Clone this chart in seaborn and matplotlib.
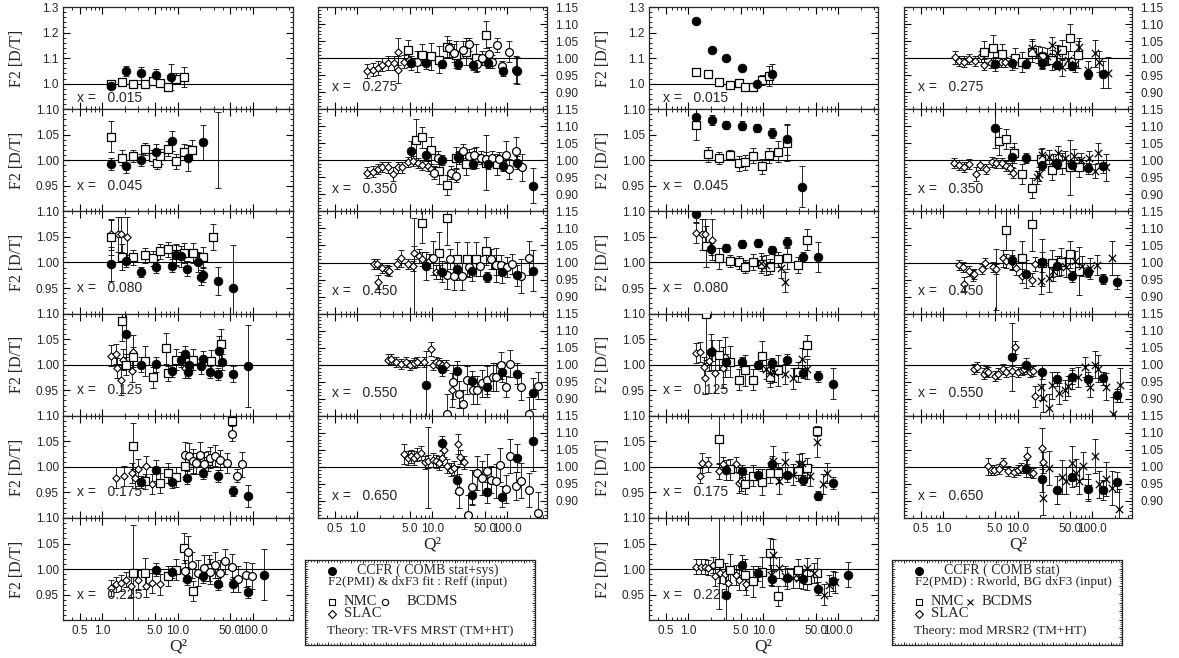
import numpy as np
import matplotlib
matplotlib.use("Agg")
import matplotlib.pyplot as plt
import seaborn as sns
from matplotlib.ticker import FixedLocator, LogLocator, MultipleLocator, NullFormatter

# x-bin labels, 6 panels in the first column, 5 in the second
X_BINS = ['0.015', '0.045', '0.080', '0.125', '0.175', '0.225',
          '0.275', '0.350', '0.450', '0.550', '0.650']
Q_TICKS = [0.5, 1, 5, 10, 50, 100]
Q_TICK_LABELS = ['0.5', '1.0', '5.0', '10.0', '50.0', '100.0']

# ---- left figure: CCFR (COMB stat+sys), points are (Q2, ratio, error) ----
ccfr_L = [
    [(1.31, 0.99, 0.01), (2.03, 1.048, 0.02), (3.28, 1.04, 0.025), (5.2, 1.032, 0.025), (8.2, 1.027, 0.05)],
    [(1.31, 0.993, 0.012), (2.07, 0.988, 0.012), (3.28, 1.001, 0.012), (5.2, 1.016, 0.015), (8.4, 1.038, 0.02),
     (13.7, 1.005, 0.025), (21.4, 1.035, 0.035)],
    [(1.31, 0.997, 0.033), (2.07, 1.003, 0.012), (3.28, 0.981, 0.01), (5.2, 0.992, 0.012), (8.4, 0.994, 0.012),
     (9.6, 1.014, 0.02), (11.2, 1.012, 0.02), (13.4, 0.988, 0.015), (18.6, 1.001, 0.02), (20.6, 0.971, 0.015),
     (21.5, 0.976, 0.015), (34.6, 0.964, 0.028), (54.8, 0.95, 0.085)],
    [(2.07, 1.06, 0.045), (3.28, 1.0, 0.015), (5.2, 1.001, 0.015), (8.4, 0.988, 0.012), (11.2, 1.01, 0.015),
     (12.4, 1.021, 0.015), (13.7, 0.985, 0.012), (14.0, 0.999, 0.015), (20.6, 0.997, 0.015), (22.0, 1.012, 0.015),
     (26.7, 0.985, 0.012), (34.6, 0.982, 0.012), (35.6, 1.027, 0.03), (39.1, 1.005, 0.015), (54.8, 0.982, 0.015),
     (86.6, 0.998, 0.08)],
    [(3.28, 0.97, 0.012), (5.2, 0.993, 0.02), (8.4, 0.97, 0.012), (13.4, 0.979, 0.012), (21.4, 0.988, 0.012),
     (34.6, 0.982, 0.012), (54.8, 0.953, 0.01), (86.6, 0.943, 0.022)],
    [(5.2, 0.999, 0.012), (8.4, 0.995, 0.012), (13.4, 0.981, 0.012), (21.4, 0.987, 0.015), (34.6, 0.971, 0.012),
     (54.8, 0.97, 0.015), (86.6, 0.955, 0.012), (138, 0.989, 0.05)],
    [(5.2, 0.986, 0.02), (8.2, 0.987, 0.02), (13.5, 0.983, 0.012), (21.8, 0.983, 0.015), (34.6, 0.981, 0.015),
     (55, 0.986, 0.015), (86.7, 0.962, 0.015), (137, 0.963, 0.04)],
    [(5.2, 1.027, 0.03), (8.2, 1.017, 0.02), (13.5, 1.0, 0.015), (21.8, 1.01, 0.015), (34.6, 0.989, 0.015),
     (55, 0.99, 0.015), (86.7, 0.984, 0.015), (137, 0.993, 0.02), (218, 0.926, 0.05)],
    [(8.2, 0.99, 0.04), (13.7, 0.973, 0.03), (21.3, 0.98, 0.03), (33.8, 0.976, 0.03), (54.6, 0.957, 0.015),
     (86.6, 0.971, 0.03), (137, 0.962, 0.03), (222, 0.976, 0.06)],
    [(8.2, 0.94, 0.1), (13.7, 0.986, 0.02), (21.3, 0.982, 0.03), (33.8, 0.952, 0.03), (54.6, 0.934, 0.03),
     (86.6, 0.979, 0.03), (137, 0.974, 0.03), (222, 0.916, 0.045)],
    [(13.4, 1.071, 0.02), (21.3, 0.962, 0.04), (33.8, 0.917, 0.03), (54, 0.925, 0.03), (86.6, 0.913, 0.03),
     (137, 1.026, 0.04), (224, 1.077, 0.09)],
]
nmc_L = [
    [(1.31, 0.997, 0.01), (1.81, 1.008, 0.01), (2.59, 1.0, 0.01), (3.67, 0.997, 0.012), (4.74, 1.01, 0.015),
     (5.75, 1.004, 0.015), (7.4, 0.987, 0.015), (9.6, 1.02, 0.02), (12.1, 1.027, 0.04)],
    [(1.31, 1.046, 0.03), (1.81, 1.005, 0.015), (2.59, 1.009, 0.012), (3.67, 1.022, 0.012), (4.74, 1.006, 0.015),
     (5.3, 0.995, 0.012), (5.9, 1.008, 0.015), (7.4, 1.023, 0.015), (9.6, 0.998, 0.015), (12.1, 1.016, 0.015),
     (15.6, 1.02, 0.02)],
    [(1.3, 1.049, 0.035), (1.81, 1.011, 0.025), (2.59, 1.01, 0.015), (3.67, 1.014, 0.015), (4.74, 1.008, 0.015),
     (5.9, 1.022, 0.015), (7.4, 1.026, 0.015), (9.6, 1.016, 0.02), (12.1, 1.019, 0.02), (15.8, 1.019, 0.02),
     (21.4, 1.01, 0.02), (29.5, 1.05, 0.025)],
    [(1.81, 1.086, 0.04), (2.07, 1.0, 0.02), (2.59, 1.015, 0.02), (3.67, 1.007, 0.03), (4.74, 0.975, 0.02),
     (7.0, 1.032, 0.03), (7.4, 0.983, 0.015), (9.6, 1.01, 0.02), (15.8, 1.01, 0.02), (28, 1.008, 0.02),
     (38, 1.04, 0.03)],
    [(2.59, 1.041, 0.045), (3.67, 0.972, 0.015), (5.75, 0.969, 0.02), (7.4, 0.988, 0.02), (9.6, 0.98, 0.02),
     (12.4, 1.001, 0.02), (16, 1.008, 0.02), (25.5, 1.011, 0.02), (53, 1.089, 0.02)],
    [(2.59, 0.992, 0.095), (3.67, 0.992, 0.03), (7.4, 0.987, 0.02), (9.6, 0.999, 0.02), (12.1, 1.041, 0.03),
     (15.8, 0.957, 0.02), (26, 1.002, 0.025)],
    [(4.7, 1.024, 0.03), (7.4, 1.01, 0.03), (9.6, 1.005, 0.04), (12.4, 0.995, 0.04), (16, 1.034, 0.03),
     (20.7, 1.01, 0.04), (28, 1.019, 0.04), (38, 1.0, 0.04), (52, 1.069, 0.04)],
    [(6, 1.06, 0.06), (7.4, 1.067, 0.03), (9.6, 1.029, 0.04), (12.4, 0.969, 0.04), (16, 0.927, 0.03),
     (20.7, 1.008, 0.03), (28, 0.988, 0.03), (38, 1.008, 0.03), (52, 0.993, 0.08), (74, 0.988, 0.03)],
    [(7.4, 1.117, 0.06), (12.4, 1.029, 0.06), (16, 1.13, 0.08), (21.5, 1.01, 0.05), (29.5, 1.01, 0.05),
     (38, 1.01, 0.05), (52, 1.034, 0.04), (70, 0.992, 0.05)],
    [],
    [],
]
slac_L = [
    [],
    [],
    [(1.31, 1.055, 0.03), (1.6, 1.055, 0.035), (1.75, 1.055, 0.035), (2.11, 1.05, 0.04)],
    [(1.31, 1.018, 0.02), (1.5, 1.021, 0.02), (1.55, 0.993, 0.02), (1.75, 0.971, 0.03), (1.9, 1.01, 0.02),
     (2.5, 0.987, 0.02), (2.59, 1.024, 0.035), (12.4, 0.993, 0.02)],
    [(1.5, 0.979, 0.02), (1.95, 0.982, 0.02), (2.5, 0.988, 0.02), (2.7, 0.979, 0.02), (3.0, 0.995, 0.02),
     (3.8, 1.001, 0.02), (4.6, 0.966, 0.02)],
    [(1.31, 0.963, 0.015), (1.5, 0.97, 0.015), (1.75, 0.973, 0.015), (2.07, 0.979, 0.015), (2.4, 0.966, 0.02),
     (3.0, 0.979, 0.02), (3.8, 0.966, 0.02), (4.6, 0.973, 0.02), (5.8, 0.97, 0.02)],
    [(1.37, 0.962, 0.02), (1.6, 0.966, 0.02), (1.87, 0.971, 0.02), (2.17, 0.981, 0.02), (2.54, 0.986, 0.02),
     (3.11, 0.986, 0.02), (3.45, 1.019, 0.04), (3.5, 0.966, 0.04), (4.24, 0.99, 0.02), (4.93, 0.995, 0.02)],
    [(1.37, 0.964, 0.015), (1.6, 0.967, 0.015), (1.87, 0.974, 0.015), (2.17, 0.981, 0.015), (2.54, 0.979, 0.015),
     (2.96, 0.96, 0.02), (3.45, 0.979, 0.015), (4.0, 0.979, 0.015), (4.7, 0.996, 0.015), (5.5, 0.998, 0.015),
     (6.4, 0.993, 0.015), (7.4, 0.987, 0.015), (8.7, 0.984, 0.015), (9.6, 0.974, 0.015)],
    [(1.69, 0.995, 0.015), (1.85, 0.995, 0.015), (1.88, 0.942, 0.02), (2.17, 0.985, 0.015), (2.47, 0.978, 0.015),
     (2.67, 0.974, 0.015), (3.4, 0.995, 0.015), (3.85, 1.012, 0.025), (4.75, 0.995, 0.015), (5.47, 0.99, 0.015),
     (5.8, 1.029, 0.02), (6.7, 1.019, 0.02), (7.4, 1.01, 0.02), (9.0, 1.005, 0.02), (11.2, 0.973, 0.02),
     (12.9, 0.973, 0.02)],
    [(2.54, 1.015, 0.015), (2.8, 1.017, 0.015), (3.28, 1.008, 0.015), (3.8, 1.003, 0.015), (4.46, 1.008, 0.015),
     (5.1, 0.998, 0.015), (5.7, 1.006, 0.015), (6.3, 1.008, 0.015), (7.8, 1.008, 0.015), (9.6, 1.046, 0.02),
     (10.1, 1.0, 0.015), (11.2, 1.008, 0.015), (12.4, 1.006, 0.015), (13.7, 1.0, 0.015), (15.2, 0.998, 0.015),
     (18.2, 0.925, 0.05)],
    [(4.24, 1.038, 0.03), (4.69, 1.026, 0.02), (5.2, 1.031, 0.02), (5.76, 1.026, 0.02), (6.36, 1.036, 0.02),
     (7.06, 1.04, 0.02), (8.06, 1.013, 0.02), (8.9, 1.016, 0.02), (10.1, 1.021, 0.02), (11.2, 1.016, 0.02),
     (12.4, 1.012, 0.02), (13.7, 1.026, 0.02), (14.5, 1.05, 0.02), (16, 1.002, 0.02), (17.8, 0.992, 0.02),
     (19.7, 0.997, 0.02), (21.8, 1.067, 0.03), (23.4, 1.029, 0.02), (26.7, 1.013, 0.02)],
]
bcdms_L = [
    [], [], [], [],
    [(12.4, 1.024, 0.025), (14, 1.021, 0.025), (16, 1.011, 0.025), (17.5, 1.007, 0.02), (19.5, 1.024, 0.025),
     (22.4, 1.005, 0.025), (26.7, 1.018, 0.02), (31, 1.022, 0.02), (36, 1.014, 0.02), (45, 1.008, 0.02),
     (53, 1.065, 0.015), (62, 0.983, 0.012), (71, 1.005, 0.025)],
    [(12.4, 0.997, 0.02), (13.7, 1.034, 0.03), (15.6, 1.008, 0.025), (18.6, 0.992, 0.025), (22.4, 1.002, 0.025),
     (26.7, 0.995, 0.025), (31, 1.008, 0.025), (36, 0.992, 0.025), (43, 1.015, 0.025), (52, 1.005, 0.025),
     (63, 0.981, 0.025), (82, 0.989, 0.025), (96, 0.987, 0.025)],
    [(6.36, 0.99, 0.03), (16.9, 1.029, 0.025), (19.7, 1.015, 0.025), (25.4, 1.024, 0.025), (31, 1.04, 0.02),
     (40.2, 0.983, 0.02), (46.9, 1.0, 0.02), (57.5, 1.012, 0.02), (63.5, 0.99, 0.02), (74, 1.038, 0.02),
     (86.6, 0.976, 0.015), (106, 1.019, 0.03), (131, 0.966, 0.04)],
    [(10.6, 0.964, 0.02), (11.8, 1.008, 0.02), (17.8, 0.964, 0.02), (20.7, 0.955, 0.02), (22.9, 1.008, 0.02),
     (25.4, 1.027, 0.02), (31, 1.012, 0.02), (36.3, 1.017, 0.02), (44.6, 1.008, 0.02), (52, 1.003, 0.02),
     (63.5, 1.008, 0.02), (78.4, 1.003, 0.02), (96, 1.017, 0.04), (106, 0.974, 0.03), (131, 1.027, 0.04),
     (160, 0.979, 0.04)],
    [(10.1, 1.012, 0.05), (15.8, 0.962, 0.04), (17.1, 1.01, 0.03), (19.5, 0.96, 0.04), (25, 0.96, 0.04),
     (31, 0.986, 0.03), (44, 0.99, 0.03), (61, 1.01, 0.03), (70, 0.992, 0.03), (82, 0.992, 0.03),
     (100, 0.986, 0.03), (115, 0.995, 0.03), (152, 0.96, 0.05), (193, 1.012, 0.05)],
    [(15.9, 0.855, 0.06), (19.2, 0.95, 0.05), (22.9, 0.913, 0.04), (26, 0.885, 0.04), (29.5, 0.955, 0.04),
     (34.5, 0.926, 0.04), (40, 0.926, 0.04), (46.5, 0.945, 0.04), (54.6, 0.955, 0.04), (64, 0.964, 0.04),
     (70, 0.964, 0.04), (82, 0.998, 0.04), (96, 0.936, 0.03), (108, 1.003, 0.04), (152, 0.936, 0.04),
     (193, 0.855, 0.05), (255, 0.938, 0.04)],
    [(22.9, 0.93, 0.05), (29.6, 0.858, 0.06), (33.8, 0.942, 0.05), (40.2, 0.981, 0.05), (46.9, 0.968, 0.05),
     (54.6, 0.988, 0.05), (60.4, 0.962, 0.04), (70.8, 0.958, 0.05), (80, 1.005, 0.05), (96.3, 0.935, 0.04),
     (108, 1.031, 0.05), (131, 0.944, 0.04), (152, 0.96, 0.05), (193, 0.933, 0.05), (254, 0.865, 0.06)],
]
bare_L = [[], [(34, 1.02, 0.075)], [], [], [], [], [], [], [(5.8, 0.99, 0.14)], [], [(8.9, 0.998, 0.12)]]

# ---- right figure: CCFR (COMB stat) ----
ccfr_R = [
    [(1.29, 1.244, 0.008), (2.05, 1.133, 0.006), (3.24, 1.1, 0.008), (5.2, 1.061, 0.01), (8.2, 0.997, 0.01),
     (13.3, 1.037, 0.04)],
    [(1.29, 1.085, 0.015), (2.05, 1.079, 0.01), (3.24, 1.069, 0.008), (5.2, 1.068, 0.008), (8.2, 1.064, 0.008),
     (13.3, 1.054, 0.01), (21.1, 1.041, 0.03), (32.8, 0.948, 0.04)],
    [(1.27, 1.094, 0.015), (2.0, 1.026, 0.012), (3.18, 1.028, 0.008), (5.2, 1.036, 0.008), (8.4, 1.038, 0.008),
     (13.3, 1.025, 0.008), (21.1, 1.04, 0.01), (34, 1.01, 0.01), (54.6, 1.011, 0.03)],
    [(2.0, 1.025, 0.035), (3.18, 1.005, 0.015), (5.2, 1.005, 0.01), (8.4, 1.0, 0.008), (13.3, 1.004, 0.01),
     (21.1, 1.01, 0.01), (34, 0.984, 0.01), (54.6, 0.977, 0.01), (85, 0.963, 0.03)],
    [(3.18, 0.994, 0.02), (5.2, 0.992, 0.012), (8.4, 0.985, 0.01), (13.3, 1.006, 0.015), (21.1, 0.985, 0.015),
     (34, 0.974, 0.01), (54.6, 0.944, 0.008), (85, 0.968, 0.012)],
    [(3.18, 0.95, 0.05), (5.2, 1.008, 0.02), (8.4, 0.992, 0.015), (13.3, 0.981, 0.015), (21.1, 0.982, 0.02),
     (34, 0.981, 0.02), (54.6, 0.962, 0.012), (85, 0.977, 0.02), (136, 0.989, 0.025)],
    [(5.0, 0.983, 0.02), (8.3, 0.986, 0.02), (13.1, 0.984, 0.012), (21.1, 0.986, 0.015), (33.5, 0.979, 0.012),
     (53, 0.976, 0.012), (87, 0.952, 0.012), (138, 0.952, 0.04)],
    [(5.0, 1.096, 0.06), (8.3, 1.01, 0.03), (13.1, 1.006, 0.015), (21.1, 0.987, 0.015), (33.5, 0.988, 0.015),
     (53, 0.987, 0.015), (87, 0.976, 0.015), (138, 0.982, 0.02)],
    [(8.3, 1.008, 0.03), (13.1, 0.966, 0.04), (21.1, 1.002, 0.03), (33.5, 0.99, 0.03), (53, 0.959, 0.015),
     (87, 0.973, 0.015), (138, 0.952, 0.015), (216, 0.942, 0.02)],
    [(8.3, 1.022, 0.1), (13.1, 1.0, 0.02), (21.1, 0.979, 0.02), (33.5, 0.958, 0.02), (53, 0.964, 0.02),
     (87, 0.958, 0.02), (138, 0.96, 0.02), (216, 0.91, 0.02)],
    [(13.1, 0.994, 0.025), (21.1, 0.965, 0.04), (33.5, 0.932, 0.04), (53, 0.97, 0.03), (87, 0.935, 0.03),
     (138, 0.932, 0.03), (216, 0.956, 0.03)],
]
nmc_R = [
    [(1.29, 1.047, 0.015), (1.81, 1.037, 0.008), (2.59, 1.008, 0.008), (3.63, 0.993, 0.01), (4.69, 1.004, 0.01),
     (5.76, 0.987, 0.015), (7.36, 0.987, 0.012), (9.5, 1.015, 0.02), (12, 1.03, 0.04)],
    [(1.29, 1.07, 0.03), (1.81, 1.012, 0.015), (2.59, 1.005, 0.012), (3.63, 1.011, 0.01), (4.69, 0.994, 0.015),
     (5.76, 0.996, 0.015), (7.36, 1.009, 0.015), (9.5, 0.988, 0.015), (12, 1.01, 0.015), (16, 1.017, 0.02),
     (21.1, 1.034, 0.035)],
    [(1.75, 1.032, 0.04), (2.56, 1.008, 0.02), (3.6, 1.003, 0.012), (4.69, 1.0, 0.012), (5.76, 0.992, 0.012),
     (7.36, 1.001, 0.015), (9.6, 0.998, 0.015), (12.3, 0.992, 0.015), (16, 1.006, 0.015), (21.1, 1.008, 0.02),
     (28.7, 0.995, 0.015), (39, 1.045, 0.02)],
    [(1.75, 1.1, 0.09), (2.56, 1.019, 0.03), (3.6, 1.006, 0.03), (4.69, 0.971, 0.02), (5.76, 0.989, 0.03),
     (7.36, 0.971, 0.02), (9.6, 1.017, 0.03), (12.3, 0.976, 0.02), (16, 0.989, 0.03), (28.7, 0.986, 0.02),
     (39, 1.038, 0.02)],
    [(2.56, 1.055, 0.05), (3.6, 0.995, 0.02), (5.76, 0.966, 0.02), (7.36, 0.983, 0.02), (9.6, 0.97, 0.025),
     (12.3, 0.988, 0.02), (16, 0.988, 0.02), (28.7, 0.992, 0.02), (39, 0.998, 0.02), (53, 1.07, 0.01)],
    [(2.56, 1.012, 0.09), (3.6, 0.999, 0.03), (5.76, 0.989, 0.03), (7.36, 0.976, 0.03), (9.6, 0.994, 0.03),
     (12.3, 1.031, 0.03), (16, 0.947, 0.02), (28.7, 0.999, 0.02), (39, 0.979, 0.02), (53, 0.992, 0.03)],
    [(3.55, 1.019, 0.03), (4.6, 1.029, 0.04), (6.1, 1.012, 0.03), (9.2, 1.0, 0.03), (11.6, 0.988, 0.03),
     (15.5, 1.019, 0.03), (21.1, 1.002, 0.03), (28.5, 0.995, 0.03), (39, 1.024, 0.03), (51, 1.06, 0.04),
     (65, 1.01, 0.04)],
    [(5.6, 1.056, 0.04), (7.0, 1.062, 0.03), (9, 1.022, 0.03), (11.6, 0.96, 0.03), (15.5, 0.918, 0.03),
     (20.8, 1.003, 0.03), (28.5, 0.971, 0.03), (39, 0.99, 0.03), (51, 0.979, 0.08), (67, 0.981, 0.03)],
    [(7, 1.096, 0.06), (11.6, 1.012, 0.05), (15.5, 1.113, 0.08), (21.1, 1.0, 0.07), (28.5, 0.998, 0.04),
     (38, 1.002, 0.04), (50, 1.024, 0.04), (67, 0.976, 0.07)],
    [],
    [],
]
slac_R = [
    [],
    [],
    [(1.27, 1.058, 0.02), (1.55, 1.055, 0.03), (1.7, 1.055, 0.03), (2.05, 1.045, 0.04)],
    [(1.27, 1.023, 0.02), (1.45, 1.025, 0.02), (1.6, 0.995, 0.02), (1.7, 0.973, 0.03), (1.9, 1.008, 0.02),
     (2.05, 1.028, 0.02), (2.3, 0.984, 0.04), (2.9, 0.994, 0.04), (3.1, 1.015, 0.04)],
    [(1.43, 0.983, 0.015), (1.55, 1.008, 0.02), (1.85, 1.005, 0.015), (2.59, 0.992, 0.015), (2.9, 1.005, 0.015),
     (4.32, 1.005, 0.015), (4.79, 0.968, 0.02), (5.0, 0.972, 0.02)],
    [(1.27, 1.005, 0.015), (1.5, 1.005, 0.015), (1.7, 1.005, 0.015), (1.85, 1.003, 0.015), (2.15, 1.008, 0.015),
     (2.25, 0.986, 0.02), (2.65, 0.992, 0.02), (3.05, 0.991, 0.02), (3.4, 0.973, 0.02), (4.3, 0.989, 0.02),
     (4.8, 0.979, 0.02), (5.9, 0.97, 0.02)],
    [(1.45, 1.002, 0.02), (1.63, 0.992, 0.015), (1.9, 0.99, 0.015), (2.2, 0.998, 0.015), (2.7, 0.992, 0.015),
     (3.2, 1.005, 0.015), (3.5, 0.981, 0.015), (4.4, 0.986, 0.015), (5.9, 0.99, 0.015), (6.7, 0.988, 0.015)],
    [(1.39, 0.991, 0.015), (1.63, 0.987, 0.015), (1.9, 0.981, 0.015), (2.2, 0.989, 0.015), (2.75, 0.96, 0.02),
     (3.1, 0.987, 0.015), (3.75, 0.974, 0.015), (4.54, 0.996, 0.015), (5.2, 0.993, 0.015), (6.2, 0.993, 0.015),
     (7, 0.984, 0.015), (7.8, 0.976, 0.015), (8.6, 0.962, 0.015)],
    [(1.63, 0.992, 0.015), (1.83, 0.986, 0.015), (1.9, 0.937, 0.02), (2.2, 0.976, 0.015), (2.5, 0.962, 0.015),
     (2.6, 0.966, 0.015), (3.3, 0.981, 0.015), (3.7, 0.998, 0.015), (4.6, 0.986, 0.015), (5.2, 0.981, 0.015),
     (6.3, 1.012, 0.025), (7.0, 1.005, 0.02), (8.4, 1.002, 0.02), (9.6, 0.983, 0.02), (11.3, 0.96, 0.02),
     (15.5, 0.95, 0.02), (16.9, 0.995, 0.02)],
    [(2.6, 0.988, 0.015), (2.85, 0.993, 0.015), (3.5, 0.974, 0.015), (3.75, 0.981, 0.015), (4.0, 0.979, 0.015),
     (5.0, 0.967, 0.015), (5.4, 0.974, 0.015), (6.3, 0.987, 0.015), (7.0, 0.979, 0.015), (8.4, 0.981, 0.015),
     (9.3, 1.051, 0.02), (10, 0.979, 0.015), (11.3, 0.984, 0.015), (12.3, 0.988, 0.015), (14.5, 0.979, 0.015),
     (16, 0.981, 0.015), (16.9, 0.907, 0.03)],
    [(4.0, 1.002, 0.025), (4.4, 0.992, 0.015), (4.8, 0.992, 0.015), (5.7, 0.994, 0.015), (6.3, 1.01, 0.015),
     (7.5, 0.988, 0.015), (9, 0.985, 0.015), (10, 0.992, 0.015), (11, 0.997, 0.015), (13.4, 1.033, 0.025),
     (14.5, 0.985, 0.015), (16, 0.983, 0.015), (21.1, 1.055, 0.06), (22, 1.013, 0.03)],
]
bcdms_R = [
    [],
    [],
    [(9.4, 0.999, 0.02), (10.8, 0.995, 0.02), (17.3, 0.99, 0.02), (19.6, 0.962, 0.02)],
    [(10.8, 0.992, 0.02), (12.3, 0.984, 0.02), (14, 0.986, 0.02), (19.6, 0.982, 0.02), (25, 0.973, 0.02),
     (33, 1.012, 0.02), (39, 0.992, 0.02)],
    [(13.7, 1.011, 0.03), (16.3, 0.972, 0.025), (19.6, 1.009, 0.02), (25, 0.985, 0.02), (29.6, 1.005, 0.02),
     (33, 1.008, 0.02), (42, 0.983, 0.02), (53, 1.049, 0.03), (62, 0.966, 0.02), (70, 0.988, 0.02)],
    [(12.6, 0.989, 0.02), (13.7, 1.028, 0.03), (16.3, 1.003, 0.02), (19.6, 0.986, 0.02), (25, 0.983, 0.02),
     (29.6, 0.983, 0.02), (39, 1.002, 0.02), (48, 0.992, 0.02), (64, 0.95, 0.02), (75, 0.968, 0.02),
     (90, 0.974, 0.02)],
    [(15.5, 1.031, 0.025), (18.6, 1.01, 0.025), (21.1, 0.992, 0.025), (24.5, 1.005, 0.025), (28.5, 1.038, 0.025),
     (34, 1.014, 0.025), (39, 0.973, 0.025), (47, 0.995, 0.025), (58, 0.983, 0.025), (67, 1.034, 0.025),
     (87, 0.966, 0.025), (108, 1.014, 0.04), (124, 0.99, 0.03), (160, 0.957, 0.045)],
    [(18, 0.95, 0.02), (19.5, 0.96, 0.02), (21.5, 1.017, 0.02), (25.9, 1.01, 0.02), (30, 0.998, 0.02),
     (35, 1.022, 0.02), (43, 1.008, 0.02), (57, 1.012, 0.02), (70, 1.0, 0.02), (89, 1.008, 0.02),
     (108, 0.969, 0.02), (118, 1.022, 0.03), (151, 0.979, 0.04)],
    [(20.3, 0.947, 0.04), (26.3, 0.954, 0.04), (30, 0.976, 0.03), (36, 0.99, 0.03), (44, 0.986, 0.03),
     (58, 1.005, 0.03), (73, 0.99, 0.03), (93, 0.983, 0.03), (115, 0.992, 0.03), (185, 1.012, 0.05)],
    [(20.3, 0.936, 0.04), (22, 0.902, 0.04), (25.9, 0.873, 0.04), (28.5, 0.94, 0.04), (36, 0.916, 0.03),
     (43.3, 0.926, 0.03), (47, 0.938, 0.03), (54, 0.96, 0.03), (65, 0.964, 0.03), (80, 0.993, 0.03),
     (92, 0.936, 0.03), (108, 1.0, 0.04), (119, 0.988, 0.04), (151, 0.936, 0.04), (190, 0.856, 0.05),
     (238, 0.94, 0.05)],
    [(22, 0.91, 0.05), (25.9, 0.997, 0.05), (39, 0.971, 0.05), (44, 0.959, 0.04), (53, 1.01, 0.05),
     (60, 0.983, 0.04), (66, 0.959, 0.04), (76, 1.004, 0.04), (87, 0.939, 0.04), (108, 1.031, 0.05),
     (124, 0.949, 0.04), (151, 0.965, 0.05), (185, 0.939, 0.05), (230, 0.875, 0.06)],
]
bare_R = [[], [], [], [], [], [], [], [], [(5.2, 0.95, 0.09)], [], []]

LEGEND_L = ['CCFR ( COMB stat+sys)', 'F2(PMI) & dxF3 fit : Reff (input)', 'Theory: TR-VFS MRST (TM+HT)']
LEGEND_R = ['CCFR ( COMB stat)', 'F2(PMD) : Rworld, BG dxF3 (input)', 'Theory: mod MRSR2 (TM+HT)']

W, H = 1179, 658
COL_LEFT = [63, 318, 649, 904]
COL_WIDTH = [230, 229, 229, 228]
ROW_H = 102.2
TOP = 7
SERIF = ['Liberation Serif', 'DejaVu Serif']

sns.set_style('ticks')
plt.rcParams['font.family'] = ['Liberation Sans', 'DejaVu Sans']
plt.rcParams['axes.linewidth'] = 0.9


def split(pts):
    q, f, e = zip(*pts)
    return list(q), list(f), list(e)


def draw_panel(ax, i, ccfr, nmc, slac, bcd, bare, bcd_marker, first_col, bottom):
    ax.set_xscale('log')
    ax.axhline(1.0, color='black', lw=0.8, zorder=1)
    for pts in (bare[i], nmc[i], slac[i], bcd[i], ccfr[i]):
        if pts:
            q, f, e = split(pts)
            ax.errorbar(q, f, yerr=e, fmt='none', ecolor='black', elinewidth=0.6,
                        capsize=2.3, capthick=0.6, zorder=2)
    if slac[i]:
        q, f, _ = split(slac[i])
        sns.scatterplot(x=q, y=f, ax=ax, marker='D', s=14, color='white',
                        edgecolor='black', linewidth=0.8, zorder=3)
    if nmc[i]:
        q, f, _ = split(nmc[i])
        sns.scatterplot(x=q, y=f, ax=ax, marker='s', s=30, color='white',
                        edgecolor='black', linewidth=0.9, zorder=3)
    if bcd[i]:
        q, f, _ = split(bcd[i])
        if bcd_marker == 'x':
            sns.scatterplot(x=q, y=f, ax=ax, marker='x', s=28, color='black',
                            linewidth=0.9, zorder=3)
        else:
            sns.scatterplot(x=q, y=f, ax=ax, marker='o', s=32, color='white',
                            edgecolor='black', linewidth=0.9, zorder=3)
    if ccfr[i]:
        q, f, _ = split(ccfr[i])
        sns.scatterplot(x=q, y=f, ax=ax, marker='o', s=40, color='black',
                        edgecolor='black', linewidth=0.5, zorder=4)

    ax.set_xlim(0.3, 340)
    ax.xaxis.set_major_locator(FixedLocator(Q_TICKS))
    ax.xaxis.set_minor_locator(LogLocator(base=10, subs=np.arange(2, 10) * 1.0, numticks=20))
    ax.xaxis.set_minor_formatter(NullFormatter())
    if bottom:
        ax.set_xticks(Q_TICKS, Q_TICK_LABELS)
        ax.set_xlabel('Q²', fontsize=12.5, family=SERIF, labelpad=1)
    else:
        ax.set_xticks(Q_TICKS, [''] * len(Q_TICKS))
        ax.set_xlabel('')

    if first_col:
        if i % 11 == 0:
            ax.set_ylim(0.9, 1.3)
            ax.set_yticks([0.9, 1.0, 1.1, 1.2, 1.3], ['', '1.0', '1.1', '1.2', '1.3'])
            ax.yaxis.set_minor_locator(MultipleLocator(0.02))
            ytxt = 0.11
        else:
            ax.set_ylim(0.9, 1.1)
            ax.set_yticks([0.9, 0.95, 1.0, 1.05, 1.1], ['', '0.95', '1.00', '1.05', '1.10'])
            ax.yaxis.set_minor_locator(MultipleLocator(0.01))
            ytxt = 0.25
        ax.set_ylabel('F2 [D/T]', fontsize=11.5, family=SERIF)
        ax.yaxis.set_label_coords(-0.165, 0.5)
        ax.tick_params(axis='y', labelleft=True, labelright=False, pad=3)
    else:
        ax.set_ylim(0.85, 1.15)
        ax.set_yticks([0.85, 0.9, 0.95, 1.0, 1.05, 1.1, 1.15],
                      ['', '0.90', '0.95', '1.00', '1.05', '1.10', '1.15'])
        ax.yaxis.set_minor_locator(MultipleLocator(0.01))
        ax.set_ylabel('')
        ax.tick_params(axis='y', labelleft=False, labelright=True, pad=6)
        ytxt = 0.22

    ax.tick_params(which='both', direction='in', top=True, right=True, bottom=True, left=True,
                   labelsize=8.5, color='black')
    ax.tick_params(which='major', length=5, width=0.8)
    ax.tick_params(which='minor', length=2.5, width=0.6)
    ax.text(0.06, ytxt, 'x =   ' + X_BINS[i], transform=ax.transAxes, fontsize=10, va='center')


def draw_legend(fig, left_px, texts, bcd_marker):
    ax = fig.add_axes([left_px / W, 1 - 645 / H, 230 / W, 85 / H])
    ax.set_xlim(0, 1)
    ax.set_ylim(0, 1)
    ax.xaxis.set_major_locator(MultipleLocator(0.05))
    ax.xaxis.set_minor_locator(MultipleLocator(0.0125))
    ax.yaxis.set_major_locator(MultipleLocator(0.1))
    ax.yaxis.set_minor_locator(MultipleLocator(0.025))
    ax.tick_params(which='both', direction='in', top=True, right=True, labelbottom=False,
                   labelleft=False, color='black')
    ax.tick_params(which='major', length=2.5, width=0.6)
    ax.tick_params(which='minor', length=1.2, width=0.5)
    mk = dict(transform=ax.transAxes, linestyle='none', clip_on=False)
    ax.plot([0.117], [0.87], marker='o', ms=5.5, color='black', **mk)
    ax.text(0.226, 0.875, texts[0], transform=ax.transAxes, fontsize=10, family=SERIF, va='center')
    ax.text(0.10, 0.74, texts[1], transform=ax.transAxes, fontsize=9.5, family=SERIF, va='center')
    ax.plot([0.117], [0.51], marker='s', ms=4.5, mfc='white', mec='black', mew=0.8, **mk)
    ax.text(0.17, 0.515, 'NMC', transform=ax.transAxes, fontsize=10.5, family=SERIF, va='center')
    if bcd_marker == 'x':
        ax.plot([0.34], [0.51], marker='x', ms=4.5, color='black', mew=0.8, **mk)
        ax.text(0.39, 0.515, 'BCDMS', transform=ax.transAxes, fontsize=10.5, family=SERIF, va='center')
    else:
        ax.plot([0.348], [0.51], marker='o', ms=4.5, mfc='white', mec='black', mew=0.8, **mk)
        ax.text(0.443, 0.515, 'BCDMS', transform=ax.transAxes, fontsize=10.5, family=SERIF, va='center')
    ax.plot([0.117], [0.37], marker='D', ms=4.5, mfc='white', mec='black', mew=0.8, **mk)
    ax.text(0.17, 0.37, 'SLAC', transform=ax.transAxes, fontsize=10.5, family=SERIF, va='center')
    ax.text(0.094, 0.165, texts[2], transform=ax.transAxes, fontsize=9.5, family=SERIF, va='center')


fig = plt.figure(figsize=(W / 100, H / 100), dpi=100)

halves = [
    (0, ccfr_L, nmc_L, slac_L, bcdms_L, bare_L, 'o', 305, LEGEND_L),
    (2, ccfr_R, nmc_R, slac_R, bcdms_R, bare_R, 'x', 892, LEGEND_R),
]
for col0, ccfr, nmc, slac, bcd, bare, bmark, leg_left, leg_text in halves:
    for i in range(11):
        if i < 6:
            col, row, nrows = col0, i, 6
        else:
            col, row, nrows = col0 + 1, i - 6, 5
        top = TOP + row * ROW_H
        ax = fig.add_axes([COL_LEFT[col] / W, 1 - (top + ROW_H) / H, COL_WIDTH[col] / W, ROW_H / H])
        draw_panel(ax, i, ccfr, nmc, slac, bcd, bare, bmark, i < 6, row == nrows - 1)
    draw_legend(fig, leg_left, leg_text, bmark)

fig.savefig('out.png', dpi=100)
